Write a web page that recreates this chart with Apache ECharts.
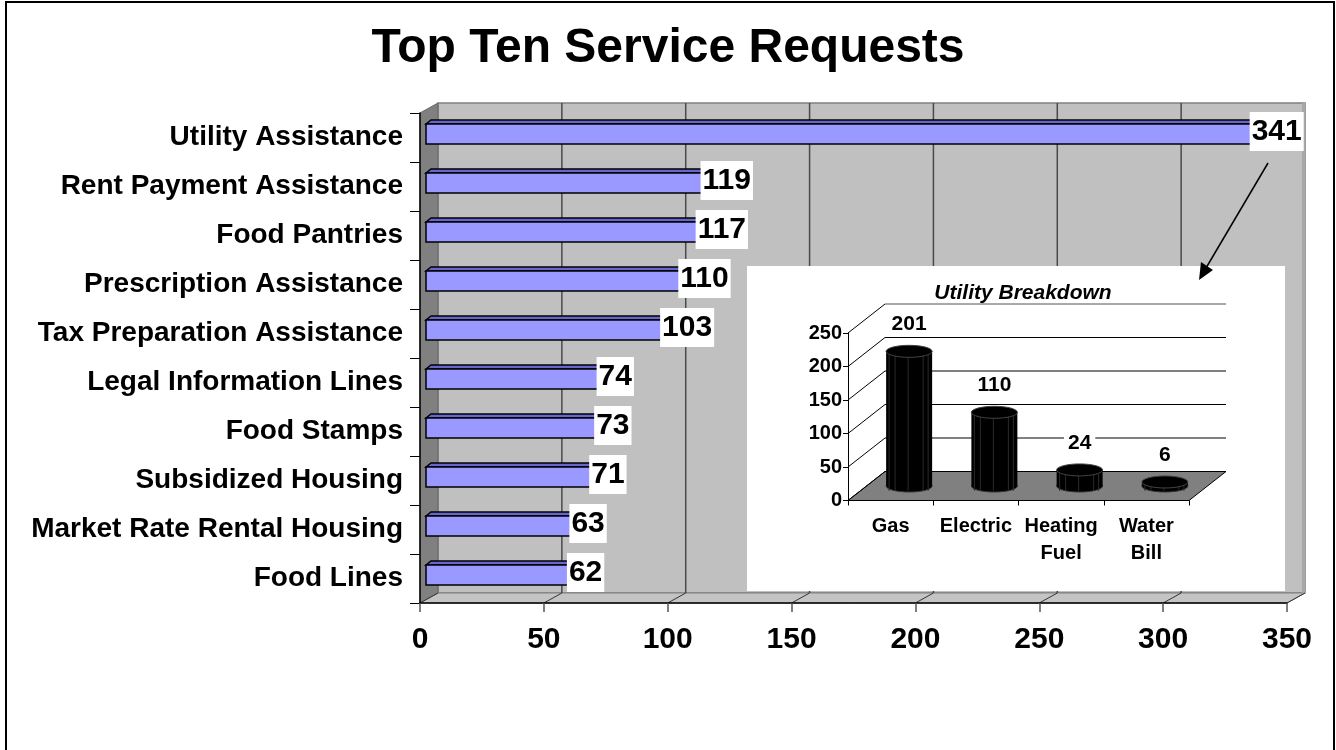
<!DOCTYPE html>
<html>
<head>
<meta charset="utf-8">
<script src="https://cdn.jsdelivr.net/npm/echarts@6/dist/echarts.min.js"></script>
<style>
html,body{margin:0;padding:0;background:#fff;}
#chart{width:1336px;height:750px;}
</style>
</head>
<body>
<div id="chart"></div>
<script>
const categories = ['Utility Assistance','Rent Payment Assistance','Food Pantries','Prescription Assistance','Tax Preparation Assistance','Legal Information Lines','Food Stamps','Subsidized Housing','Market Rate Rental Housing','Food Lines'];
const requests = [341,119,117,110,103,74,73,71,63,62];
const xTicks = [0,50,100,150,200,250,300,350];

const utilityCategories = ['Gas','Electric','Heating\nFuel','Water\nBill'];
const utilityValues = [201,110,24,6];
const utilityTicks = [0,50,100,150,200,250];

const FONT = "'Liberation Sans', Arial, sans-serif";

const chart = echarts.init(document.getElementById('chart'), null, {renderer:'canvas'});

function renderMainWalls(params, api){
  const cs = params.coordSys;
  const x0 = cs.x, y0 = cs.y, x1 = cs.x + cs.width, y1 = cs.y + cs.height;
  const dx = 18, dy = -10;
  const ch = [];
  ch.push({type:'rect', shape:{x:x0+dx, y:y0+dy, width:cs.width, height:cs.height}, style:{fill:'#c0c0c0', stroke:'#808080', lineWidth:1.5}});
  ch.push({type:'polygon', shape:{points:[[x0,y0],[x0+dx,y0+dy],[x0+dx,y1+dy],[x0,y1]]}, style:{fill:'#808080', stroke:'#666', lineWidth:1}});
  ch.push({type:'polygon', shape:{points:[[x0,y1],[x0+dx,y1+dy],[x1+dx,y1+dy],[x1,y1]]}, style:{fill:'#c4c4c4', stroke:'#808080', lineWidth:1}});
  ch.push({type:'polygon', shape:{points:[[x1+dx-3,y0+dy],[x1+dx,y0+dy],[x1+dx,y1+dy],[x1+dx-3,y1+dy+2]]}, style:{fill:'#a8a8a8'}});
  xTicks.forEach(function(v, k){
    const x = api.coord([v, 0])[0];
    if (k > 0 && k < xTicks.length - 1) {
      ch.push({type:'line', shape:{x1:x+dx, y1:y0+dy, x2:x+dx, y2:y1+dy}, style:{stroke:'#4a4a4a', lineWidth:1.5}});
    }
    ch.push({type:'line', shape:{x1:x, y1:y1, x2:x+dx, y2:y1+dy}, style:{stroke:'#333', lineWidth:1}});
  });
  return {type:'group', children:ch};
}

function renderBar(params, api){
  const v = api.value(0), i = api.value(1);
  const end = api.coord([v, i]);
  const start = api.coord([0, i]);
  const cy = end[1];
  const ox = 6, d = 5, dh = 4;
  const xs = start[0] + ox, xe = end[0] + ox;
  const top = cy - 13.5, bot = cy + 6.5;
  return {type:'group', children:[
    {type:'polygon', shape:{points:[[xs,top],[xs+d,top-dh],[xe+d,top-dh],[xe,top]]}, style:{fill:'#6666cc', stroke:'#000', lineWidth:1.5}},
    {type:'polygon', shape:{points:[[xe,top],[xe+d,top-dh],[xe+d,bot-dh],[xe,bot]]}, style:{fill:'#5555aa', stroke:'#000', lineWidth:1.5}},
    {type:'rect', shape:{x:xs, y:top, width:xe-xs, height:bot-top}, style:{fill:'#9999ff', stroke:'#000', lineWidth:1.5}},
    {type:'text', x:end[0]+12, y:cy-6, style:{text:String(v), font:'bold 30px '+FONT, fill:'#000', align:'center', verticalAlign:'middle', backgroundColor:'#fff', padding:[5,2,4,2]}}
  ]};
}

function renderInsetWalls(params, api){
  const cs = params.coordSys;
  const x0 = cs.x, x1 = cs.x + cs.width, y1 = cs.y + cs.height;
  const dx = 37, dy = -29;
  const ch = [];
  ch.push({type:'polygon', shape:{points:[[x0,y1],[x0+dx,y1+dy],[x1+dx,y1+dy],[x1,y1]]}, style:{fill:'#808080', stroke:'#000', lineWidth:1}});
  utilityTicks.forEach(function(v){
    const y = api.coord([0, v])[1];
    ch.push({type:'line', shape:{x1:x0, y1:y, x2:x0+dx, y2:y+dy}, style:{stroke:'#000', lineWidth:1}});
    if (v > 0) ch.push({type:'line', shape:{x1:x0+dx, y1:y+dy, x2:x1+dx, y2:y+dy}, style:{stroke: v === 250 ? '#555' : '#000', lineWidth:1}});
  });
  return {type:'group', children:ch};
}

function renderCylinder(params, api){
  const idx = api.value(0), v = api.value(1);
  const base = api.coord([idx, 0]);
  const top = api.coord([idx, v]);
  const cx = base[0] + 18.5;
  const by = base[1] - 14.5;
  const ty = top[1] - 14.5;
  const rx = 23, ry = 6;
  const ch = [
    {type:'ellipse', shape:{cx:cx, cy:by, rx:rx, ry:ry}, style:{fill:'#000', stroke:'#333', lineWidth:1}},
    {type:'rect', shape:{x:cx-rx, y:ty, width:2*rx, height:by-ty}, style:{fill:'#000'}}
  ];
  [-20,-14,-1,14,19].forEach(function(o){
    ch.push({type:'line', shape:{x1:cx+o, y1:ty+ry*0.6, x2:cx+o, y2:by+ry*0.8}, style:{stroke:'#2a2a2a', lineWidth:1}});
  });
  ch.push({type:'ellipse', shape:{cx:cx, cy:ty, rx:rx, ry:ry}, style:{fill:'#000', stroke:'#444', lineWidth:1}});
  ch.push({type:'text', x:cx, y:ty-27, style:{text:String(v), font:'bold 21px '+FONT, fill:'#000', align:'center', verticalAlign:'middle', backgroundColor:'#fff', padding:[1,4]}});
  return {type:'group', children:ch};
}

const option = {
  backgroundColor:'#fff',
  animation:false,
  title:[
    {text:'Top Ten Service Requests', left:'center', top:20, textStyle:{fontFamily:FONT, fontWeight:'bold', fontSize:48, color:'#000'}},
    {text:'Utility Breakdown', left:1018, textAlign:'center', top:278, textStyle:{fontFamily:FONT, fontWeight:'bold', fontStyle:'italic', fontSize:21, color:'#000'}, z:8}
  ],
  grid:[
    {left:420, right:49, top:113, bottom:147, containLabel:false},
    {left:848, right:147, top:333, bottom:249.5, containLabel:false}
  ],
  xAxis:[
    {type:'value', gridIndex:0, min:0, max:350, interval:50, z:3,
     axisLine:{show:true, lineStyle:{color:'#000', width:1.5}},
     axisTick:{show:true, length:9, lineStyle:{color:'#555', width:1.5}},
     splitLine:{show:false},
     axisLabel:{margin:22, color:'#000', fontFamily:FONT, fontWeight:'bold', fontSize:30}},
    {type:'category', gridIndex:1, data:utilityCategories, z:6,
     axisLine:{show:true, lineStyle:{color:'#000', width:1}},
     axisTick:{show:true, length:5, lineStyle:{color:'#000'}},
     axisLabel:{interval:0, margin:12, color:'#000', fontFamily:FONT, fontWeight:'bold', fontSize:20, lineHeight:27},
     splitLine:{show:false}}
  ],
  yAxis:[
    {type:'category', gridIndex:0, data:categories, inverse:true, z:3,
     axisLine:{show:true, lineStyle:{color:'#000', width:1.5}},
     axisTick:{show:true, length:10, lineStyle:{color:'#000', width:1}},
     axisLabel:{margin:17, color:'#000', fontFamily:FONT, fontWeight:'bold', fontSize:28},
     splitLine:{show:false}},
    {type:'value', gridIndex:1, min:0, max:250, interval:50, z:6,
     axisLine:{show:true, lineStyle:{color:'#000', width:1}},
     axisTick:{show:true, length:5, lineStyle:{color:'#000'}},
     axisLabel:{margin:6, color:'#000', fontFamily:FONT, fontWeight:'bold', fontSize:20},
     splitLine:{show:false}}
  ],
  graphic:[
    {type:'rect', z:2, zlevel:0, shape:{x:747, y:266, width:538, height:325}, style:{fill:'#fff'}},
    {type:'line', z:10, shape:{x1:1268, y1:163, x2:1206, y2:268}, style:{stroke:'#000', lineWidth:1.5}},
    {type:'polygon', z:10, shape:{points:[[1199,280],[1213,270],[1201,262]]}, style:{fill:'#000'}},
    {type:'rect', z:10, shape:{x:6, y:2, width:1328, height:770}, style:{fill:'none', stroke:'#000', lineWidth:2}}
  ],
  series:[
    {type:'custom', name:'walls', xAxisIndex:0, yAxisIndex:0, z:1, silent:true,
     data:[[0,0]], encode:{x:0, y:1}, renderItem:renderMainWalls},
    {type:'custom', name:'Requests', xAxisIndex:0, yAxisIndex:0, z:3,
     data:requests.map(function(v,i){return [v,i];}), encode:{x:0, y:1}, renderItem:renderBar},
    {type:'custom', name:'insetWalls', xAxisIndex:1, yAxisIndex:1, z:4, silent:true,
     data:[[0,0]], encode:{x:0, y:1}, renderItem:renderInsetWalls},
    {type:'custom', name:'Utility', xAxisIndex:1, yAxisIndex:1, z:5,
     data:utilityValues.map(function(v,i){return [i,v];}), encode:{x:0, y:1}, renderItem:renderCylinder}
  ]
};
chart.setOption(option);
</script>
</body>
</html>
